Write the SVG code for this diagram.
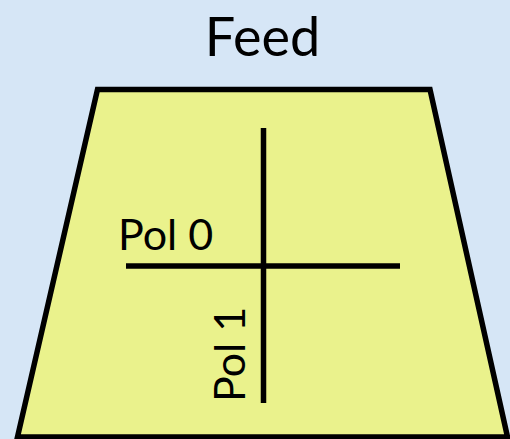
<svg xmlns="http://www.w3.org/2000/svg" width="510" height="439" viewBox="0 0 510 439">
<style>
.lbl{font-family:Lato,"Liberation Sans",sans-serif;fill:#000}
.ln{stroke:#000;stroke-width:5.5;fill:none}
</style>
<rect width="510" height="439" fill="#d6e6f6"/>
<g id="title">
<text class="lbl" x="262.5" y="56" font-size="54" text-anchor="middle">Feed</text>
</g>
<g id="feed">
<path d="M97.5,89.5 L430,89.5 L507.5,437 L17.5,437 Z" fill="#eaf28c" stroke="#000" stroke-width="5.5" stroke-linejoin="miter"/>
</g>
<g id="connectors">
<line class="ln" x1="263.5" y1="128" x2="263.5" y2="403"/>
<line class="ln" x1="126" y1="266" x2="400" y2="266"/>
</g>
<g id="pol0">
<text class="lbl" x="118" y="250" font-size="43">Pol 0</text>
</g>
<g id="pol1">
<text class="lbl" transform="translate(245,402) rotate(-90)" x="0" y="0" font-size="43">Pol 1</text>
</g>
</svg>
